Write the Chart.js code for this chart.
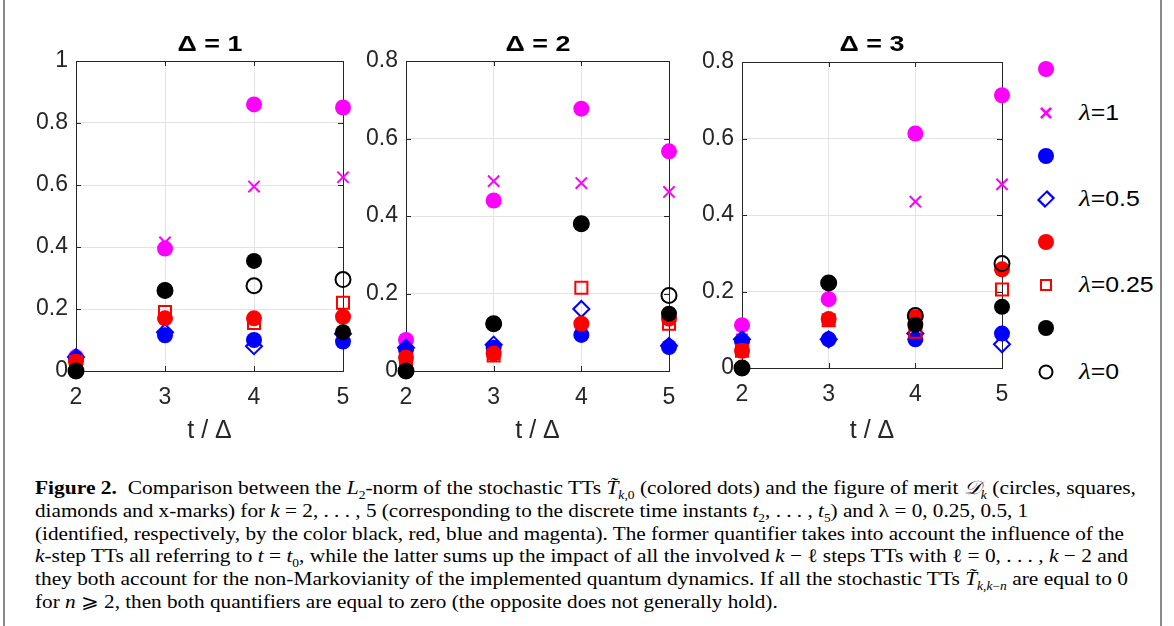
<!DOCTYPE html>
<html>
<head>
<meta charset="utf-8">
<script src="https://cdn.jsdelivr.net/npm/chart.js@4.4.0/dist/chart.umd.min.js"></script>
<style>
  body { margin: 0; background: #fff; width: 1174px; height: 626px; overflow: hidden; position: relative;
         font-family: "Liberation Sans", Arial, sans-serif; color: #000; }
  .frame { position: absolute; top: -2px; left: 3px; width: 1155px; height: 640px; border-left: 2px solid #8a8a8a; border-right: 2px solid #8a8a8a; }
  .panel { position: absolute; top: 0; }
  .ptitle { position: absolute; top: 31px; font-weight: bold; font-size: 22px; transform: translateX(-50%) scaleX(1.22); white-space: nowrap; }
  .leg { position: absolute; left: 1030px; width: 140px; height: 30px; }
  .mk { position: absolute; left: 16px; top: 15px; transform: translate(-50%, -50%); box-sizing: border-box; }
  .lab { position: absolute; left: 49px; top: 1px; font-size: 22px; white-space: nowrap; transform: scaleX(1.13); transform-origin: 0 0; }
  .lab i { font-family: "Liberation Serif", serif; font-size: 24px; }
  .cap { position: absolute; left: 35px; font-family: "Liberation Serif", "Times New Roman", serif; font-size: 19px;
         white-space: nowrap; transform-origin: 0 0; line-height: 22px; }
  .cap sub { font-size: 12px; line-height: 0; }
</style>
</head>
<body>
<div class="frame"></div>

<div class="panel" id="p1"><canvas id="c1"></canvas></div>
<div class="panel" id="p2"><canvas id="c2"></canvas></div>
<div class="panel" id="p3"><canvas id="c3"></canvas></div>

<div class="ptitle" style="left:210px">Δ = 1</div>
<div class="ptitle" style="left:538px">Δ = 2</div>
<div class="ptitle" style="left:872px">Δ = 3</div>

<div id="legend"></div>

<div class="cap" style="top:477px"><b>Figure 2.</b>&nbsp; Comparison between the <i>L</i><sub>2</sub>-norm of the stochastic TTs <i>T̃</i><sub><i>k</i>,0</sub> (colored dots) and the figure of merit <i>𝒟</i><sub><i>k</i></sub> (circles, squares,</div>
<div class="cap" style="top:500px">diamonds and x-marks) for <i>k</i> = 2, . . . , 5 (corresponding to the discrete time instants <i>t</i><sub>2</sub>, . . . , <i>t</i><sub>5</sub>) and λ = 0, 0.25, 0.5, 1</div>
<div class="cap" style="top:523px">(identified, respectively, by the color black, red, blue and magenta). The former quantifier takes into account the influence of the</div>
<div class="cap" style="top:545px"><i>k</i>-step TTs all referring to <i>t</i> = <i>t</i><sub>0</sub>, while the latter sums up the impact of all the involved <i>k</i> − ℓ steps TTs with ℓ = 0, . . . , <i>k</i> − 2 and</div>
<div class="cap" style="top:568px">they both account for the non-Markovianity of the implemented quantum dynamics. If all the stochastic TTs <i>T̃</i><sub><i>k</i>,<i>k</i>−<i>n</i></sub> are equal to 0</div>
<div class="cap" style="top:591px">for <i>n</i> ⩾ 2, then both quantifiers are equal to zero (the opposite does not generally hold).</div>

<script>
const tValues = [2, 3, 4, 5];

// Δ = 1
const d1DotMag = [0.045, 0.395, 0.86, 0.85];
const d1MarkMag = [0.04, 0.415, 0.595, 0.625];
const d1DotBlue = [0.04, 0.115, 0.1, 0.095];
const d1MarkBlue = [0.045, 0.125, 0.08, 0.12];
const d1DotRed = [0.03, 0.17, 0.17, 0.175];
const d1MarkRed = [0.03, 0.19, 0.155, 0.22];
const d1DotBlack = [0, 0.26, 0.355, 0.125];
const d1MarkBlack = [0, 0.26, 0.275, 0.295];

// Δ = 2
const d2DotMag = [0.08, 0.44, 0.677, 0.567];
const d2MarkMag = [0.06, 0.49, 0.485, 0.462];
const d2DotBlue = [0.055, 0.06, 0.093, 0.062];
const d2MarkBlue = [0.06, 0.068, 0.16, 0.065];
const d2DotRed = [0.035, 0.045, 0.122, 0.135];
const d2MarkRed = [0.03, 0.04, 0.215, 0.122];
const d2DotBlack = [0, 0.122, 0.38, 0.148];
const d2MarkBlack = [0, 0.122, 0.38, 0.195];

// Δ = 3
const d3DotMag = [0.112, 0.18, 0.613, 0.713];
const d3MarkMag = [0.075, 0.2, 0.435, 0.48];
const d3DotBlue = [0.07, 0.075, 0.075, 0.09];
const d3MarkBlue = [0.075, 0.075, 0.09, 0.062];
const d3DotRed = [0.045, 0.128, 0.133, 0.258];
const d3MarkRed = [0.045, 0.125, 0.095, 0.205];
const d3DotBlack = [0, 0.222, 0.113, 0.16];
const d3MarkBlack = [0, 0.222, 0.137, 0.273];

const yTicks1 = [0, 0.2, 0.4, 0.6, 0.8, 1];
const yTicks23 = [0, 0.2, 0.4, 0.6, 0.8];
const lambdaLabels = ["λ=1", "λ=0.5", "λ=0.25", "λ=0"];

// colour + marker for each of the 8 series, in legend order
const styles = [
  { color: "#ff00ff", shape: "circle", filled: true, r: 8 },
  { color: "#ff00ff", shape: "crossRot", filled: false, r: 8 },
  { color: "#0000ff", shape: "circle", filled: true, r: 8 },
  { color: "#0000ff", shape: "rectRot", filled: false, r: 8 },
  { color: "#ff0000", shape: "circle", filled: true, r: 8 },
  { color: "#ff0000", shape: "rect", filled: false, r: 8.5 },
  { color: "#000000", shape: "circle", filled: true, r: 8 },
  { color: "#000000", shape: "circle", filled: false, r: 7.5 },
];

const boxPlugin = {
  id: "box",
  beforeDatasetsDraw(chart) {
    const { ctx, chartArea: a, scales } = chart;
    ctx.save();
    ctx.strokeStyle = "#262626";
    ctx.lineWidth = 1;
    ctx.strokeRect(Math.round(a.left) + 0.5, Math.round(a.top) + 0.5, Math.round(a.right - a.left), Math.round(a.bottom - a.top));
    ctx.beginPath();
    scales.x.ticks.forEach((t) => {
      const px = Math.round(scales.x.getPixelForValue(t.value)) + 0.5;
      ctx.moveTo(px, a.bottom); ctx.lineTo(px, a.bottom - 5);
      ctx.moveTo(px, a.top); ctx.lineTo(px, a.top + 5);
    });
    scales.y.ticks.forEach((t) => {
      const py = Math.round(scales.y.getPixelForValue(t.value)) + 0.5;
      ctx.moveTo(a.left, py); ctx.lineTo(a.left + 5, py);
      ctx.moveTo(a.right, py); ctx.lineTo(a.right - 5, py);
    });
    ctx.stroke();
    ctx.restore();
  },
};

const padLeft = 75, padRight = 25, padBottom = 4, panelHeight = 450;

function makePanel(id, canvasId, series, yMax, yTicks, area) {
  const box = document.getElementById(id);
  const width = area.right - area.left + padLeft + padRight;
  box.style.left = area.left - padLeft + "px";
  box.style.width = width + "px";
  box.style.height = panelHeight + "px";

  const datasets = series.map((vals, i) => {
    const s = styles[i];
    return {
      data: tValues.map((t, j) => ({ x: t, y: vals[j] })),
      pointStyle: s.shape,
      pointRadius: s.r,
      pointHoverRadius: s.r,
      pointBorderWidth: s.filled ? 0 : 2,
      pointBorderColor: s.color,
      pointBackgroundColor: s.filled ? s.color : "rgba(0,0,0,0)",
      showLine: false,
      clip: false,
      order: series.length - i,
    };
  });

  new Chart(document.getElementById(canvasId), {
    type: "scatter",
    data: { datasets },
    plugins: [boxPlugin],
    options: {
      responsive: false,
      animation: false,
      events: [],
      layout: { padding: { left: 0, right: padRight, top: area.top, bottom: padBottom } },
      plugins: { legend: { display: false }, tooltip: { enabled: false } },
      scales: {
        x: {
          type: "linear",
          min: 2,
          max: 5,
          afterFit: (s) => { s.height = panelHeight - area.bottom - padBottom; },
          afterBuildTicks: (s) => { s.ticks = tValues.map((v) => ({ value: v })); },
          grid: { color: "#e3e3e3", drawTicks: false },
          border: { display: false },
          ticks: { padding: 13, color: "#262626", font: { family: "Liberation Sans", size: 23 } },
          title: { display: true, text: "t / Δ", color: "#262626", padding: { top: 4, bottom: 0 },
                   font: { family: "Liberation Sans", size: 25 } },
        },
        y: {
          min: 0,
          max: yMax,
          afterFit: (s) => { s.width = padLeft; },
          afterBuildTicks: (s) => { s.ticks = yTicks.map((v) => ({ value: v })); },
          grid: { color: "#e3e3e3", drawTicks: false },
          border: { display: false },
          ticks: { padding: 8, color: "#262626", font: { family: "Liberation Sans", size: 23 },
                   callback: (v) => String(Math.round(v * 10) / 10) },
        },
      },
    },
  });
}

function sizeCanvas(canvasId, area) {
  const c = document.getElementById(canvasId);
  c.width = area.right - area.left + padLeft + padRight;
  c.height = panelHeight;
  c.style.width = c.width + "px";
  c.style.height = panelHeight + "px";
}

const areas = [
  { left: 76, right: 343, top: 61, bottom: 371 },
  { left: 406, right: 669, top: 61, bottom: 371 },
  { left: 742, right: 1002, top: 62, bottom: 368 },
];
["c1", "c2", "c3"].forEach((c, i) => sizeCanvas(c, areas[i]));

makePanel("p1", "c1", [d1DotMag, d1MarkMag, d1DotBlue, d1MarkBlue, d1DotRed, d1MarkRed, d1DotBlack, d1MarkBlack], 1, yTicks1, areas[0]);
makePanel("p2", "c2", [d2DotMag, d2MarkMag, d2DotBlue, d2MarkBlue, d2DotRed, d2MarkRed, d2DotBlack, d2MarkBlack], 0.8, yTicks23, areas[1]);
makePanel("p3", "c3", [d3DotMag, d3MarkMag, d3DotBlue, d3MarkBlue, d3DotRed, d3MarkRed, d3DotBlack, d3MarkBlack], 0.8, yTicks23, areas[2]);

// legend on the right, drawn with plain HTML
const legendY = [69, 113, 156, 199, 242, 285, 328, 372];
const legend = document.getElementById("legend");
styles.forEach((s, i) => {
  const row = document.createElement("div");
  row.className = "leg";
  row.style.top = legendY[i] - 15 + "px";
  const mk = document.createElement("div");
  mk.className = "mk";
  if (s.shape === "circle") {
    const d = s.filled ? 16 : 15;
    Object.assign(mk.style, { width: d + "px", height: d + "px", borderRadius: "50%",
      background: s.filled ? s.color : "none", border: s.filled ? "none" : "2px solid " + s.color });
  } else if (s.shape === "rect") {
    Object.assign(mk.style, { width: "12px", height: "12px", border: "2px solid " + s.color });
  } else if (s.shape === "rectRot") {
    Object.assign(mk.style, { width: "12px", height: "12px", border: "2px solid " + s.color,
      transform: "translate(-50%, -50%) rotate(45deg) scale(0.95, 1.2)" });
  } else {
    mk.textContent = "×";
    Object.assign(mk.style, { color: s.color, fontSize: "24px", fontWeight: "bold", lineHeight: "24px" });
  }
  row.appendChild(mk);
  if (i % 2 === 1) {
    const lab = document.createElement("div");
    lab.className = "lab";
    const txt = lambdaLabels[(i - 1) / 2];
    lab.innerHTML = "<i>λ</i>" + txt.slice(1);
    row.appendChild(lab);
  }
  legend.appendChild(row);
});

// stretch caption lines to the widths they have in the printed figure
const capTargets = [1101, null, 1089, 1093, 1093, null];
const caps = document.querySelectorAll(".cap");
const refScale = 1089 / caps[2].getBoundingClientRect().width;
caps.forEach((el, i) => {
  const w = el.getBoundingClientRect().width;
  const k = capTargets[i] ? capTargets[i] / w : refScale;
  el.style.transform = "scaleX(" + k + ")";
});
</script>
</body>
</html>
